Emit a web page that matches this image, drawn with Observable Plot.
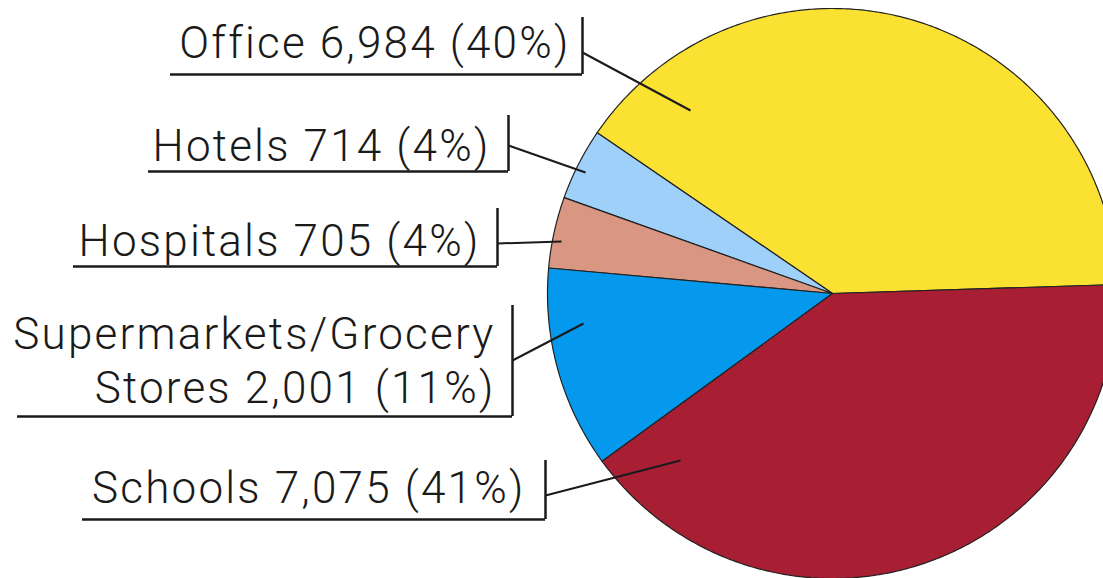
<!DOCTYPE html>
<html>
<head>
<meta charset="utf-8">
<script src="https://cdn.jsdelivr.net/npm/d3@7"></script>
<script src="https://cdn.jsdelivr.net/npm/@observablehq/plot@0.6"></script>
<style>
  html, body { margin: 0; padding: 0; background: #fff; overflow: hidden; }
  #chart svg text { letter-spacing: 2.2px; font-weight: 300; }
</style>
</head>
<body>
<div id="chart"></div>
<script>
// ---- data ----
const categories = ["Office", "Hotels", "Hospitals", "Supermarkets/Grocery Stores", "Schools"];
const labelNames = ["Office", "Hotels", "Hospitals", "Supermarkets/Grocery\nStores", "Schools"];
const values = [6984, 714, 705, 2001, 7075];
const percents = [40, 4, 4, 11, 41];
const colors = ["#FBE232", "#9ED0FA", "#D99683", "#0599EE", "#A81E33"];

// ---- layout (annotation placement, pixel units) ----
const pie = {cx: 832, cy: 293, r: 285, startDeg: 1.8};
const labelLayout = [
  {textX: 570, textY: 40, ux1: 170, ux2: 582, uy: 74, barTop: 17, ly: 52, ex: 690, ey: 110},
  {textX: 490, textY: 143.5, ux1: 148, ux2: 508, uy: 171, barTop: 115, ly: 145, ex: 585, ey: 172},
  {textX: 480, textY: 238, ux1: 73, ux2: 497, uy: 266, barTop: 208, ly: 243, ex: 561, ey: 241},
  {textX: 495, textY: 358, ux1: 17, ux2: 512, uy: 416, barTop: 305, ly: 360, ex: 583, ey: 323},
  {textX: 525, textY: 485, ux1: 82, ux2: 545, uy: 519, barTop: 460, ly: 495, ex: 680, ey: 460}
];

// ---- build slice polygons from values ----
const total = d3.sum(values);
const slicePts = [];
let acc = pie.startDeg;
categories.forEach((c, i) => {
  const sweep = values[i] / total * 360;
  const a0 = acc, a1 = acc + sweep;
  slicePts.push({cat: c, x: pie.cx, y: pie.cy});
  const n = Math.max(2, Math.ceil(sweep * 2));
  for (let k = 0; k <= n; k++) {
    const a = (a0 + (a1 - a0) * k / n) * Math.PI / 180;
    slicePts.push({cat: c, x: pie.cx + pie.r * Math.cos(a), y: pie.cy - pie.r * Math.sin(a)});
  }
  slicePts.push({cat: c, x: pie.cx, y: pie.cy});
  acc = a1;
});

const fmt = d3.format(",");
const labels = categories.map((c, i) => ({
  cat: c,
  text: `${labelNames[i]} ${fmt(values[i])} (${percents[i]}%)`,
  ...labelLayout[i]
}));

const W = 1103, H = 578;
const chart = Plot.plot({
  width: W, height: H,
  margin: 0,
  x: {domain: [0, W], range: [0, W], axis: null},
  y: {domain: [0, H], range: [0, H], axis: null},
  color: {domain: categories, range: colors},
  style: {background: "#fff", fontFamily: "Roboto, 'Liberation Sans', Arial, sans-serif"},
  marks: [
    Plot.line(slicePts, {x: "x", y: "y", z: "cat", fill: "cat", stroke: "#222", strokeWidth: 1.2, strokeLinejoin: "round", clip: true}),
    // leader lines
    Plot.link(labels, {x1: "ux2", y1: "ly", x2: "ex", y2: "ey", stroke: "#1a1a1a", strokeWidth: 2}),
    // underline
    Plot.ruleY(labels, {y: "uy", x1: "ux1", x2: "ux2", stroke: "#1a1a1a", strokeWidth: 2.5}),
    // vertical bar
    Plot.ruleX(labels, {x: "ux2", y1: "barTop", y2: "uy", stroke: "#1a1a1a", strokeWidth: 2.5}),
    Plot.text(labels, {x: "textX", y: "textY", text: "text", textAnchor: "end", fontSize: 44, lineHeight: 1.227, fill: "#1a1a1a"})
  ]
});
document.getElementById("chart").appendChild(chart);
</script>
</body>
</html>
